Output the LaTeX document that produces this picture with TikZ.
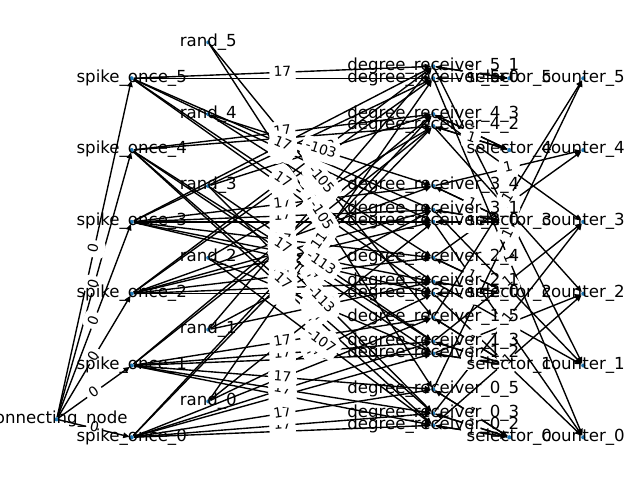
\documentclass[tikz,border=0pt]{standalone}
\usepackage{fontspec}
\setmainfont{DejaVu Sans}
\usetikzlibrary{arrows.meta}
\definecolor{nxblue}{HTML}{1F77B4}
\pgfdeclarelayer{edgelayer}
\pgfdeclarelayer{dotlayer}
\pgfdeclarelayer{textlayer}
\pgfsetlayers{edgelayer,dotlayer,main,textlayer}
\tikzset{
  dot/.style={circle, fill=nxblue, draw=none, inner sep=0pt, minimum size=3pt},
  nlabel/.style={inner sep=0pt, text height=0.76em, text depth=0.21em,
    font=\fontsize{12}{14}\selectfont},
  wire/.style={line width=1pt, black, -{Triangle[length=4.5pt,width=4pt]}},
  wlab/.style={midway, sloped, fill=white, rounded corners=3pt, inner sep=3pt,
    text height=0.76em, text depth=0.21em, font=\fontsize{10}{12}\selectfont},
}
% directed connection with its weight label
\newcommand\conn[3]{%
  \begin{pgfonlayer}{edgelayer}\draw[wire] (#1) -- (#2);\end{pgfonlayer}%
  \path (#1) -- node[wlab]{#3} (#2);}
% directed connection whose label is hidden under its reverse one
\newcommand\connbare[2]{%
  \begin{pgfonlayer}{edgelayer}\draw[wire] (#1) -- (#2);\end{pgfonlayer}}
% a neuron: blue dot plus its name on top
\newcommand\neuron[3]{%
  \begin{pgfonlayer}{dotlayer}\node[dot] (#1) at (#2) {};\end{pgfonlayer}%
  \begin{pgfonlayer}{textlayer}\node[nlabel] at (#2) {#3};\end{pgfonlayer}}
\begin{document}
\begin{tikzpicture}[x=0.01in, y=-0.01in]
\useasboundingbox (0,0) rectangle (640,480);
\clip (0,0) rectangle (640,480);

\neuron{cn}{56.7,419.3}{connecting\_node}
\foreach \i in {0,...,5} {
  \pgfmathsetmacro\ys{437.3-71.8*\i}
  \pgfmathsetmacro\yr{401.4-71.8*\i}
  \neuron{so\i}{131.7,\ys}{spike\_once\_\i}
  \neuron{rd\i}{208.3,\yr}{rand\_\i}
  \neuron{sel\i}{509.3,\ys}{selector\_\i}
  \neuron{cnt\i}{583.3,\ys}{counter\_\i}
}
\foreach \i/\j/\k in {5/1/1,5/0/0,4/3/3,4/2/2,3/4/3,3/1/1,3/0/0,2/4/3,
                      2/1/1,2/0/0,1/5/4,1/3/2,1/2/1,0/5/4,0/3/2,0/2/1} {
  \pgfmathsetmacro\yd{437.3-71.8*\i-11.967*\k}
  \neuron{dr-\i-\j}{433.3,\yd}{degree\_receiver\_\i\_\j}
}

% start-up fan
\foreach \i in {0,...,5} { \conn{cn}{so\i}{0} }

% spike_once -> degree receivers
\foreach \k/\tl in {0/{4-2,1-2,0-2,4-3,1-3,0-3,1-5,0-5},
                    1/{4-2,1-2,0-2,4-3,1-3,0-3,1-5,0-5},
                    2/{5-0,3-0,2-0,5-1,3-1,2-1,3-4,2-4},
                    3/{5-0,3-0,2-0,5-1,3-1,2-1,3-4,2-4},
                    4/{4-2,1-2,0-2,4-3,1-3,0-3},
                    5/{5-0,3-0,2-0,5-1,3-1,2-1}} {
  \foreach \t in \tl { \conn{so\k}{dr-\t}{17} }
}

% random currents -> degree receivers
\foreach \j/\w/\tl in {0/-111/{5-0,3-0,2-0}, 1/-109/{5-1,3-1,2-1},
                       2/-107/{4-2,1-2,0-2}, 3/-113/{4-3,1-3,0-3},
                       4/-103/{3-4,2-4}, 5/-105/{1-5,0-5}} {
  \foreach \t in \tl { \conn{rd\j}{dr-\t}{\w} }
}

% degree receivers <-> selectors, degree receivers -> counters
\foreach \i/\j in {5/1,5/0,4/3,4/2,3/4,3/1,3/0,2/4,2/1,2/0,1/5,1/3,1/2,0/5,0/3,0/2} {
  \connbare{sel\i}{dr-\i-\j}
  \conn{dr-\i-\j}{sel\i}{1}
  \conn{dr-\i-\j}{cnt\j}{1}
}
\end{tikzpicture}
\end{document}
